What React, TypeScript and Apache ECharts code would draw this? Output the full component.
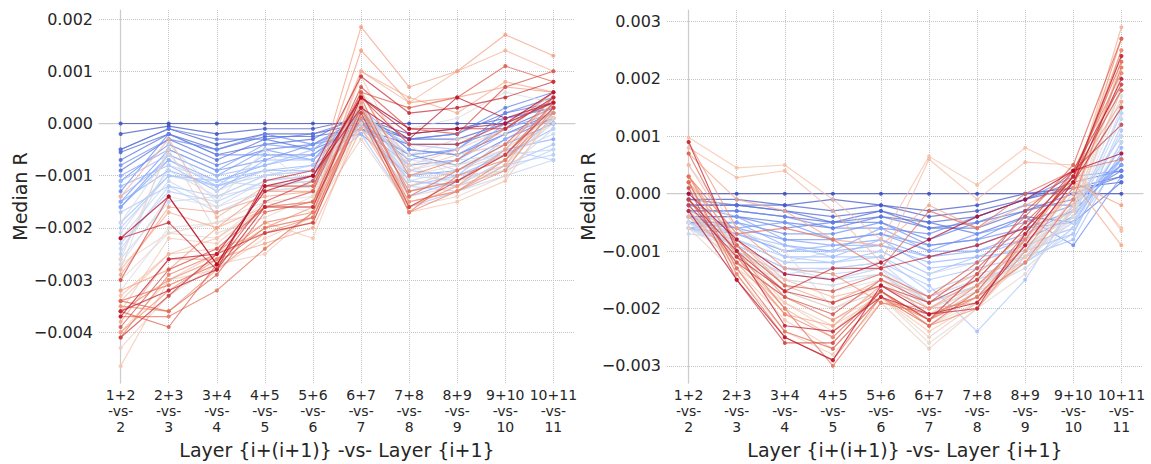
import React, { useEffect, useRef } from "react";
import * as echarts from "echarts";

// Layer-pair labels shown under each x position
const LAYER_PAIRS = [
  "1+2\n-vs-\n2",
  "2+3\n-vs-\n3",
  "3+4\n-vs-\n4",
  "4+5\n-vs-\n5",
  "5+6\n-vs-\n6",
  "6+7\n-vs-\n7",
  "7+8\n-vs-\n8",
  "8+9\n-vs-\n9",
  "9+10\n-vs-\n10",
  "10+11\n-vs-\n11",
];

const LEFT_TICKS = [-0.004, -0.003, -0.002, -0.001, 0, 0.001, 0.002];
const RIGHT_TICKS = [-0.003, -0.002, -0.001, 0, 0.001, 0.002, 0.003];

// Median R per unit (rows ordered from the coolest to the warmest colour)
const leftRuns: number[][] = [
  [0, 0, 0, 0, 0, 0, 0, 0, 0, 0],
  [-0.0002, -0.00005, -0.0002, -0.0001, -0.0001, 0.0001, -0.0002, -0.0001, 0.0001, 0.0003],
  [-0.0005, -0.0001, -0.0004, -0.0002, -0.0002, 0.0, -0.0003, -0.0003, 0.0, 0.0004],
  [-0.00055, -0.0002, -0.0005, -0.00025, -0.00025, -0.0001, -0.0004, -0.0004, -0.0001, 0.0003],
  [-0.0007, -0.0002, -0.0006, -0.0004, -0.0003, 0.0002, -0.0005, -0.0006, -0.0002, 0.0002],
  [-0.0009, -0.0003, -0.0007, -0.0003, -0.0005, -0.0001, -0.0006, -0.0008, -0.0003, 0.0001],
  [-0.0005, -0.0001, -0.0003, -0.0003, -0.0002, 0.0001, -0.0003, -0.0002, 0.0002, 0.0004],
  [-0.0011, -0.0004, -0.0008, -0.0005, -0.0004, 0.0001, -0.0003, -0.0002, 0.0003, 0.0006],
  [-0.0013, -0.0002, -0.0006, -0.0006, -0.0006, 0.0, -0.0007, -0.0005, 0.0002, 0.0005],
  [-0.0008, -0.0003, -0.0005, -0.0002, -0.0004, 0.0, -0.0006, -0.0005, 0.0001, 0.0003],
  [-0.0015, -0.0005, -0.0009, -0.0007, -0.0004, -0.0002, -0.001, -0.0009, -0.0004, 0.0],
  [-0.0016, -0.0006, -0.001, -0.0005, -0.0007, 0.0003, -0.0005, -0.0006, -0.0001, 0.0002],
  [-0.001, -0.0005, -0.0009, -0.0004, -0.0005, 0.0002, -0.0008, -0.0007, -0.0002, 0.0001],
  [-0.0016, -0.0007, -0.0011, -0.0008, -0.0006, 0.0001, -0.0014, -0.0011, -0.0005, -0.0003],
  [-0.0015, -0.0009, -0.0012, -0.0009, -0.0008, -0.0001, -0.0008, -0.0007, 0.0, 0.0],
  [-0.0012, -0.0008, -0.0013, -0.0007, -0.0007, 0.0002, -0.0009, -0.001, -0.0006, -0.0001],
  [-0.0019, -0.001, -0.0011, -0.0009, -0.0009, 0.0, -0.0011, -0.0012, -0.0007, 0.0001],
  [-0.0014, -0.0007, -0.0012, -0.0006, -0.0007, 0.0, -0.0012, -0.001, -0.0003, 0.0002],
  [-0.0011, -0.0006, -0.001, -0.0008, -0.0005, 0.0001, -0.0004, -0.0005, 0.0001, 0.0003],
  [-0.0017, -0.0012, -0.0014, -0.001, -0.0009, -0.0002, -0.0016, -0.0013, -0.0008, -0.0004],
  [-0.002, -0.001, -0.0012, -0.001, -0.0008, 0.0002, -0.0006, -0.0009, -0.0005, -0.0007],
  [-0.0023, -0.0013, -0.0015, -0.0011, -0.001, 0.0001, -0.001, -0.0011, -0.0008, -0.0006],
  [-0.0024, -0.0012, -0.0017, -0.0013, -0.0012, 0.0002, -0.0011, -0.0012, -0.0009, -0.0005],
  [-0.0025, -0.0008, -0.0011, -0.0012, -0.0011, 0.0, -0.0012, -0.0013, -0.001, -0.0007],
  [-0.0026, -0.0015, -0.0014, -0.0012, -0.0011, 0.0003, -0.0009, -0.0007, -0.0006, -0.0005],
  [-0.0022, -0.0011, -0.0016, -0.0011, -0.001, -0.0001, -0.0013, -0.001, -0.0009, -0.0001],
  [-0.0021, -0.0009, -0.0014, -0.001, -0.0009, 0.0003, -0.0007, -0.0008, -0.0006, -0.0002],
  [-0.0028, -0.0004, -0.0013, -0.0009, -0.0012, 0.0004, -0.0011, -0.0009, -0.0004, 0.0001],
  [-0.0019, -0.0006, -0.0015, -0.0005, -0.0013, 0.0002, -0.0008, -0.0012, -0.0007, 0.0],
  [-0.0027, -0.0014, -0.0016, -0.0013, -0.0012, 0.0005, -0.0001, 0.0001, 0.0006, 0.0004],
  [-0.0032, -0.002, -0.0019, -0.0015, -0.0014, 0.0006, -0.0004, -0.0011, -0.0009, 0.0003],
  [-0.003, -0.0021, -0.0022, -0.0015, -0.0017, 0.0002, -0.0006, -0.0003, -0.0002, 0.0006],
  [-0.0027, -0.0021, -0.0019, -0.0017, -0.0015, 0.0004, -0.001, -0.0008, -0.0005, 0.0002],
  [-0.0026, -0.0005, -0.0021, -0.0018, -0.0014, -0.0001, -0.0013, -0.0011, -0.0008, 0.0001],
  [-0.0043, -0.0033, -0.0027, -0.0025, -0.0017, -0.0003, -0.0016, -0.0014, -0.001, 0.0001],
  [-0.004, -0.003, -0.0028, -0.0022, -0.0018, 0.0, -0.0014, -0.0012, -0.0009, 0.0003],
  [-0.0036, -0.0022, -0.0023, -0.0016, -0.0015, 0.0009, -0.0008, -0.0005, -0.0001, 0.0005],
  [-0.00465, -0.003, -0.0025, -0.0019, -0.0022, 0.0001, -0.0017, -0.0015, -0.0011, 0.0002],
  [-0.0033, -0.0025, -0.0022, -0.0016, -0.0015, 0.0006, -0.0009, -0.0006, -0.0004, 0.0004],
  [-0.0034, -0.0025, -0.0024, -0.0021, -0.0019, 0.0003, -0.0012, -0.0009, -0.0006, 0.0003],
  [-0.0014, -0.0003, -0.0018, -0.0012, -0.0012, 0.001, 0.0004, 0.001, 0.0014, 0.001],
  [-0.0028, -0.0017, -0.002, -0.0016, -0.0016, 0.001, 0.0005, 0.0002, 0.0008, 0.0006],
  [-0.0038, -0.0026, -0.0026, -0.0023, -0.002, -0.0001, -0.0015, -0.0013, -0.0008, 0.0004],
  [-0.0029, -0.0016, -0.0017, -0.0014, -0.0013, 0.00185, 0.0007, 0.001, 0.0017, 0.0013],
  [-0.0032, -0.0028, -0.002, -0.0013, -0.0013, 0.0014, 0.0004, 0.0005, 0.0007, 0.0006],
  [-0.004, -0.0032, -0.0026, -0.002, -0.0016, 0.0004, -0.0016, -0.0012, -0.0005, 0.0005],
  [-0.0035, -0.0036, -0.0028, -0.0021, -0.0018, 0.0002, -0.0015, -0.0013, -0.0009, 0.0003],
  [-0.0036, -0.003, -0.0026, -0.0019, -0.0017, 0.0003, -0.0017, -0.0013, -0.0007, 0.0004],
  [-0.0041, -0.0029, -0.0025, -0.0016, -0.0015, 0.0001, -0.0017, -0.001, -0.0007, 0.0002],
  [-0.0037, -0.0037, -0.0032, -0.0024, -0.0017, 0.0006, -0.001, -0.0007, -0.0001, 0.0006],
  [-0.0034, -0.0031, -0.0027, -0.002, -0.0018, 0.0003, -0.0013, -0.0011, -0.0006, 0.0004],
  [-0.0034, -0.0036, -0.0029, -0.0017, -0.0015, 0.0005, -0.0014, -0.0009, -0.0004, 0.0005],
  [-0.0036, -0.0039, -0.0027, -0.0012, -0.0012, 0.0006, 0.0003, 0.0005, 0.0011, 0.0008],
  [-0.0039, -0.0028, -0.0024, -0.0016, -0.0013, 0.0007, -0.0001, -0.0002, 0.0007, 0.001],
  [-0.003, -0.0014, -0.0027, -0.0015, -0.0011, 0.0005, -0.0004, -0.0004, 0.0, 0.0004],
  [-0.0041, -0.0033, -0.0025, -0.0021, -0.0019, 0.0002, -0.0016, -0.0011, -0.0006, 0.0003],
  [-0.0022, -0.0019, -0.0028, -0.0011, -0.0009, 0.0009, 0.0002, 0.0003, 0.0005, 0.0008],
  [-0.0036, -0.0032, -0.0028, -0.0016, -0.0016, 0.0005, -0.0002, -0.0001, -0.0001, 0.0005],
  [-0.0037, -0.0026, -0.0025, -0.0013, -0.001, 0.0003, -0.0003, 0.0005, 0.0001, 0.0004],
  [-0.0022, -0.0014, -0.0027, -0.0012, -0.001, 0.0005, -0.0001, -0.0001, 0.0, 0.0006],
];

const rightRuns: number[][] = [
  [0, 0, 0, 0, 0, 0, 0, 0, 0, 0],
  [-0.0001, -0.0001, -0.0002, -0.0001, -0.0002, -0.0003, -0.0002, 0.0, 0.0001, 0.0002],
  [-0.0002, -0.0002, -0.0002, -0.0003, -0.0002, -0.0004, -0.0003, -0.0001, 0.0001, 0.0003],
  [-0.0002, -0.0002, -0.0003, -0.0004, -0.0003, -0.0005, -0.0004, -0.0001, 0.0002, 0.0004],
  [-0.0003, -0.0003, -0.0004, -0.0005, -0.0003, -0.0006, -0.0006, -0.0003, 0.0, 0.0003],
  [-0.0001, -0.0002, -0.0003, -0.0005, -0.0004, -0.0005, -0.0007, -0.0004, -0.0005, 0.0002],
  [-0.0004, -0.0004, -0.0005, -0.0006, -0.0004, -0.0006, -0.0005, -0.0003, -0.0001, 0.0004],
  [-0.0004, -0.0004, -0.0006, -0.0005, -0.0005, -0.0008, -0.0005, -0.0002, -0.0002, 0.0005],
  [-0.0003, -0.0003, -0.0004, -0.0006, -0.0006, -0.0007, -0.0004, -0.0001, 0.0003, 0.0004],
  [-0.0005, -0.0005, -0.0007, -0.0007, -0.0005, -0.0009, -0.0008, -0.0004, -0.0009, 0.0003],
  [-0.0005, -0.0006, -0.0008, -0.0008, -0.0007, -0.0009, -0.0008, -0.0006, -0.0003, 0.0005],
  [-0.0004, -0.0006, -0.0005, -0.0008, -0.0007, -0.001, -0.0007, -0.0005, -0.0002, 0.0006],
  [-0.0002, -0.0004, -0.0008, -0.0009, -0.0008, -0.0011, -0.0009, -0.0006, -0.0005, 0.0007],
  [-0.0006, -0.0005, -0.0009, -0.001, -0.0006, -0.001, -0.001, -0.0007, -0.0003, 0.0005],
  [-0.0006, -0.0007, -0.001, -0.001, -0.0009, -0.0011, -0.001, -0.0008, -0.0004, 0.0006],
  [-0.0005, -0.0007, -0.001, -0.0009, -0.0009, -0.0012, -0.0011, -0.0008, -0.0004, 0.0008],
  [-0.0003, -0.0006, -0.0011, -0.0011, -0.0008, -0.0013, -0.0012, -0.0009, -0.0006, 0.0006],
  [-0.0006, -0.0008, -0.0012, -0.0012, -0.001, -0.0014, -0.0011, -0.001, -0.0007, 0.0009],
  [-0.0004, -0.0007, -0.0009, -0.0011, -0.0011, -0.0015, -0.0013, -0.0011, -0.0008, 0.0007],
  [-0.0005, -0.0009, -0.0013, -0.0013, -0.0012, -0.0016, -0.0024, -0.0015, -0.0002, 0.001],
  [-0.0004, -0.0008, -0.0011, -0.0012, -0.0011, -0.0017, -0.0014, -0.0012, -0.0006, 0.0011],
  [-0.0006, -0.0009, -0.0013, -0.0014, -0.0013, -0.0018, -0.0015, -0.0012, -0.0007, 0.0012],
  [-0.0005, -0.0009, -0.0013, -0.0015, -0.0014, -0.0019, -0.0016, -0.0011, -0.0004, 0.0014],
  [-0.0005, -0.001, -0.0014, -0.0013, -0.0012, -0.0019, -0.0016, -0.0011, -0.0005, 0.0013],
  [-0.0007, -0.0008, -0.0012, -0.001, -0.001, -0.0014, -0.0012, -0.0009, -0.0004, 0.0014],
  [-0.0003, -0.001, -0.0015, -0.0016, -0.0014, -0.002, -0.0017, -0.0013, -0.0006, 0.0015],
  [-0.0006, -0.001, -0.0014, -0.0015, -0.0013, -0.0022, -0.0017, -0.001, -0.0005, 0.0009],
  [-0.0006, -0.0011, -0.0014, -0.0015, -0.0013, -0.0019, -0.0015, -0.001, -0.0003, 0.001],
  [-0.0004, -0.0009, -0.0016, -0.0017, -0.0015, -0.0021, -0.0018, -0.0012, -0.0004, 0.0016],
  [-0.0005, -0.0012, -0.0015, -0.0016, -0.0014, -0.002, -0.0016, -0.0008, -0.0003, 0.0017],
  [0.0005, -0.0006, -0.001, -0.002, -0.0017, -0.0023, -0.0019, -0.001, -0.0002, 0.0018],
  [-0.0003, -0.0012, -0.0018, -0.0022, -0.0018, -0.0026, -0.002, -0.0014, -0.0004, 0.0019],
  [0.0002, -0.001, -0.0017, -0.002, -0.0017, -0.0022, -0.0018, -0.001, -0.0001, 0.002],
  [-0.0001, -0.0009, -0.0017, -0.002, -0.0016, -0.0021, -0.0016, -0.0012, -0.0003, 0.0021],
  [-0.0006, -0.0014, -0.0024, -0.0028, -0.0019, -0.0027, -0.002, -0.0011, -0.0001, 0.0025],
  [-0.0004, -0.0013, -0.0019, -0.0023, -0.0018, -0.0025, -0.0019, -0.0012, -0.0003, 0.0018],
  [0.0001, -0.001, -0.0019, -0.0024, -0.0017, -0.0023, -0.0018, -0.0009, 0.0, 0.002],
  [-0.0002, -0.0013, -0.0022, -0.0027, -0.0018, -0.0024, -0.0019, -0.0011, -0.0002, 0.0023],
  [0.00098, 0.00045, 0.0005, -0.0001, -0.0008, 0.00065, 0.00015, 0.0008, 0.0004, -0.0006],
  [0.0008, 0.00028, 0.0004, -0.0003, -0.0012, 0.0006, -0.0001, 0.00055, 0.0005, -0.00065],
  [0.0005, -0.0008, -0.0015, -0.0018, -0.0016, -0.002, -0.0016, -0.0009, 0.0001, 0.0022],
  [-0.0004, -0.0011, -0.002, -0.0025, -0.0017, -0.0022, -0.0017, -0.0008, 0.0001, 0.0029],
  [0.0007, -0.0001, -0.0003, -0.0008, -0.0009, -0.0002, -0.0006, -0.0002, 0.0002, -0.0009],
  [0.0002, -0.0008, -0.0016, -0.0019, -0.0015, -0.0018, -0.0014, -0.0007, 0.0003, 0.0016],
  [-0.0003, -0.0012, -0.0021, -0.0023, -0.0016, -0.002, -0.0015, -0.0006, 0.0002, -0.0002],
  [0.0009, -0.0006, -0.0013, -0.0014, -0.0019, -0.002, -0.0019, -0.0008, 0.0003, 0.0024],
  [0.0003, -0.0009, -0.0018, -0.0022, -0.0017, -0.0023, -0.002, -0.001, 0.0001, 0.0027],
  [0.0003, -0.0011, -0.0021, -0.0025, -0.0017, -0.0022, -0.0018, -0.0009, 0.0002, 0.0025],
  [0.0002, -0.0014, -0.0025, -0.0029, -0.0018, -0.0022, -0.0016, -0.0008, 0.0004, 0.0021],
  [-0.0001, -0.001, -0.002, -0.003, -0.0019, -0.0021, -0.0018, -0.0012, -0.0001, 0.0022],
  [0.0003, -0.0007, -0.0006, -0.0008, -0.0013, -0.0003, -0.0006, 0.0, 0.0004, 0.0006],
  [0.0002, -0.0013, -0.0024, -0.0027, -0.0018, -0.0023, -0.0017, -0.0007, 0.0003, 0.0023],
  [0.0007, -0.0009, -0.0016, -0.0017, -0.0014, -0.0018, -0.0012, -0.0004, 0.0005, 0.0027],
  [-0.0001, -0.0012, -0.0018, -0.0021, -0.0015, -0.0019, -0.0013, -0.0005, 0.0003, 0.0018],
  [0.0001, -0.0015, -0.0026, -0.0026, -0.0017, -0.0022, -0.0014, -0.0003, 0.0004, 0.0012],
  [-0.0001, -0.001, -0.0017, -0.0019, -0.0016, -0.0019, -0.0015, -0.0006, 0.0004, 0.0019],
  [-0.0002, -0.0011, -0.0017, -0.0013, -0.0013, -0.0011, -0.0009, -0.0006, 0.0002, 0.0015],
  [0.0009, -0.001, -0.0023, -0.0024, -0.0018, -0.0021, -0.002, -0.0007, 0.0003, 0.0024],
  [-0.0003, -0.0015, -0.0025, -0.0029, -0.0016, -0.0021, -0.0019, -0.0009, 0.0002, 0.002],
  [0.0, -0.0008, -0.0014, -0.0015, -0.0012, -0.0008, -0.0004, -0.0001, 0.0004, 0.0007],
];

// Diverging blue-to-red colour ramp
const RAMP: [number, number, number][] = [
  [59, 76, 192],
  [98, 130, 234],
  [141, 176, 254],
  [184, 208, 249],
  [221, 220, 220],
  [245, 196, 173],
  [244, 154, 123],
  [222, 96, 77],
  [180, 4, 38],
];

function rampColor(t: number): string {
  const pos = Math.min(Math.max(t, 0), 1) * (RAMP.length - 1);
  const i = Math.min(Math.floor(pos), RAMP.length - 2);
  const f = pos - i;
  const a = RAMP[i];
  const b = RAMP[i + 1];
  const c = a.map((v, k) => Math.round(v + (b[k] - v) * f));
  return `rgb(${c[0]},${c[1]},${c[2]})`;
}

const FONT = "DejaVu Sans";
const TEXT = "#262626";
const SPINE = "#cccccc";
const GRIDLINE = "#c4c4c4";
const X_TICKS = LAYER_PAIRS.map((_, i) => i);

function fmtTick(v: number): string {
  if (Math.abs(v) < 1e-12) return "0.000";
  return (v < 0 ? "\u2212" : "") + Math.abs(v).toFixed(3);
}

function makeXAxis(gridIndex: number) {
  return {
    type: "value" as const,
    gridIndex,
    min: -0.45,
    max: 9.45,
    name: "Layer {i+(i+1)} -vs- Layer {i+1}",
    nameLocation: "middle" as const,
    nameGap: 51,
    nameTextStyle: { fontFamily: FONT, fontSize: 19, color: TEXT },
    axisLine: { show: true, lineStyle: { color: SPINE, width: 1.25 } },
    axisTick: { show: false, customValues: X_TICKS },
    axisLabel: {
      customValues: X_TICKS,
      formatter: (v: number) => LAYER_PAIRS[Math.round(v)] ?? "",
      fontFamily: FONT,
      fontSize: 14,
      lineHeight: 16,
      color: TEXT,
      margin: 4,
    },
    splitLine: { show: true, lineStyle: { color: GRIDLINE, type: "dotted" as const, width: 1 } },
  };
}

function makeYAxis(gridIndex: number, min: number, max: number, ticks: number[]) {
  return {
    type: "value" as const,
    gridIndex,
    min,
    max,
    name: "Median R",
    nameLocation: "middle" as const,
    nameGap: 66,
    nameTextStyle: { fontFamily: FONT, fontSize: 19, color: TEXT },
    axisLine: { show: true, lineStyle: { color: SPINE, width: 1.25 } },
    axisTick: { show: false, customValues: ticks },
    axisLabel: {
      customValues: ticks,
      formatter: fmtTick,
      fontFamily: FONT,
      fontSize: 16,
      color: TEXT,
      margin: 6,
    },
    splitLine: { show: true, lineStyle: { color: GRIDLINE, type: "dotted" as const, width: 1 } },
  };
}

function makeSeries(runs: number[][], axisIndex: number) {
  const n = runs.length;
  return runs.map((vals, k) => {
    const color = rampColor(k / (n - 1));
    return {
      type: "line" as const,
      xAxisIndex: axisIndex,
      yAxisIndex: axisIndex,
      data: vals.map((v, i) => [i, v]),
      symbol: "circle",
      symbolSize: 4,
      showSymbol: true,
      silent: true,
      lineStyle: { color, width: 1.15, opacity: 0.72 },
      itemStyle: { color, opacity: 0.85 },
      emphasis: { disabled: true },
    };
  });
}

export default function App() {
  const ref = useRef<HTMLDivElement>(null);

  useEffect(() => {
    if (!ref.current) return;
    const chart = echarts.init(ref.current, undefined, { renderer: "svg" });
    chart.setOption({
      animation: false,
      backgroundColor: "#ffffff",
      grid: [
        { left: 99, right: 576, top: 10, bottom: 77, containLabel: false },
        { left: 667, right: 8, top: 10, bottom: 77, containLabel: false },
      ],
      xAxis: [makeXAxis(0), makeXAxis(1)],
      yAxis: [
        makeYAxis(0, -0.004975, 0.002175, LEFT_TICKS),
        makeYAxis(1, -0.0033, 0.0032, RIGHT_TICKS),
      ],
      series: [...makeSeries(leftRuns, 0), ...makeSeries(rightRuns, 1)],
    });
    return () => chart.dispose();
  }, []);

  return (
    <div
      ref={ref}
      style={{ position: "fixed", left: 0, top: 0, width: 1151, height: 464, background: "#fff" }}
    />
  );
}
